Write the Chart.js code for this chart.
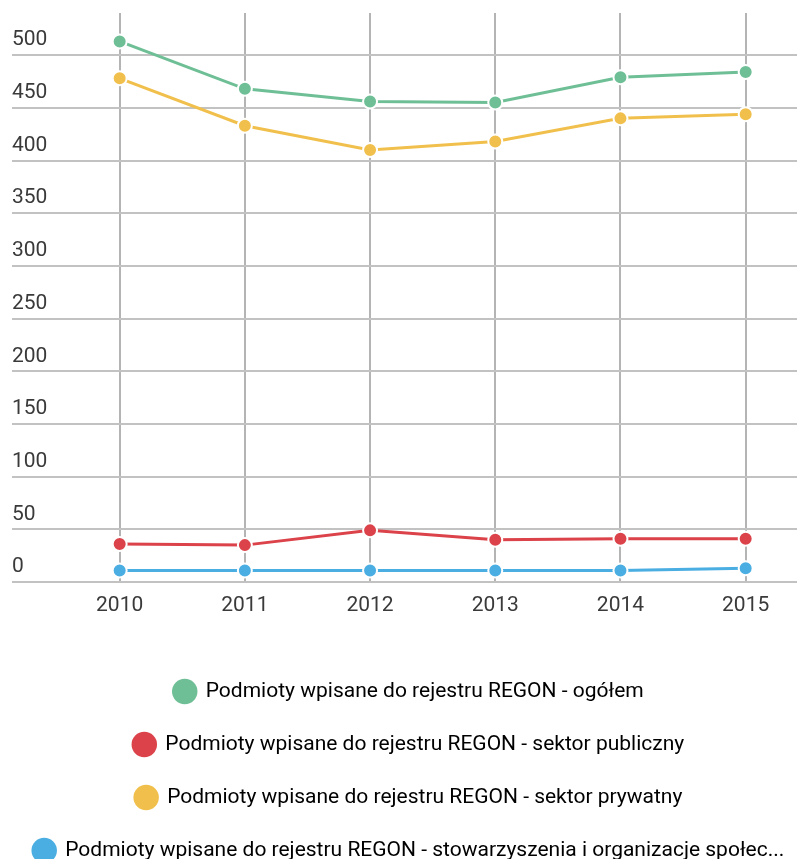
<!DOCTYPE html>
<html>
<head>
<meta charset="utf-8">
<script src="https://cdn.jsdelivr.net/npm/chart.js@4"></script>
<style>
  html, body { margin: 0; padding: 0; background: #fff; overflow: hidden; }
  #wrap { width: 806px; height: 859px; }
</style>
</head>
<body>
<div id="wrap"><canvas id="regonChart" width="806" height="859"></canvas></div>
<script>
// years on the x axis
const years = [2010, 2011, 2012, 2013, 2014, 2015];

const seriesNames = [
    'Podmioty wpisane do rejestru REGON - ogółem',
    'Podmioty wpisane do rejestru REGON - sektor publiczny',
    'Podmioty wpisane do rejestru REGON - sektor prywatny',
    'Podmioty wpisane do rejestru REGON - stowarzyszenia i organizacje społeczne'
];

// values
const ogolem = [513, 468, 456, 455, 479, 484];
const publiczny = [36, 35, 49, 40, 41, 41];
const prywatny = [478, 433, 410, 418, 440, 444];
const stowarzyszenia = [11, 11, 11, 11, 11, 13];

const yTicks = [0, 50, 100, 150, 200, 250, 300, 350, 400, 450, 500];

const colors = ['#6fbf96', '#db4249', '#f1c04c', '#4aaee2'];
const allValues = [ogolem, publiczny, prywatny, stowarzyszenia];

const fontFamily = "Roboto, 'Noto Sans', sans-serif";

const datasets = allValues.map((vals, i) => ({
    label: seriesNames[i],
    data: vals,
    borderColor: colors[i],
    backgroundColor: colors[i],
    borderWidth: 3,
    pointRadius: 7,
    pointBorderWidth: 2,
    pointBorderColor: '#fff',
    pointBackgroundColor: colors[i],
    pointStyle: 'circle',
    tension: 0
}));

new Chart(document.getElementById('regonChart'), {
    type: 'line',
    data: { labels: years, datasets: datasets },
    options: {
        responsive: false,
        animation: false,
        layout: { padding: { left: 12, top: 13, right: 0, bottom: 0 } },
        scales: {
            x: {
                type: 'linear',
                min: 2009.14,
                max: 2015.41,
                afterBuildTicks: s => { s.ticks = years.map(v => ({ value: v })); },
                afterFit: s => { s.height = 67; },
                grid: { color: '#b4b4b4', lineWidth: 2, drawTicks: false },
                border: { display: false },
                ticks: {
                    padding: 11,
                    color: '#3a3a3a',
                    font: { family: fontFamily, size: 21 },
                    callback: v => String(v)
                }
            },
            y: {
                min: 0,
                max: 540,
                afterBuildTicks: s => { s.ticks = yTicks.map(v => ({ value: v })); },
                grid: { color: '#c2c2c2', lineWidth: 2, drawTicks: false },
                border: { display: false },
                ticks: {
                    mirror: true,
                    padding: 0,
                    labelOffset: -15,
                    color: '#3a3a3a',
                    font: { family: fontFamily, size: 21 }
                }
            }
        },
        plugins: {
            tooltip: { enabled: false },
            legend: {
                position: 'bottom',
                maxHeight: 210,
                labels: {
                    usePointStyle: true,
                    pointStyle: 'circle',
                    boxHeight: 18,
                    padding: 32,
                    color: '#333',
                    font: { family: fontFamily, size: 21 },
                    generateLabels: chart => chart.data.datasets.map((ds, i) => ({
                        text: ds.label.length > 72 ? ds.label.slice(0, 72) + '...' : ds.label,
                        fillStyle: ds.backgroundColor,
                        strokeStyle: ds.backgroundColor,
                        lineWidth: 0,
                        pointStyle: 'circle',
                        datasetIndex: i,
                        hidden: false
                    }))
                }
            }
        }
    }
});
</script>
</body>
</html>
